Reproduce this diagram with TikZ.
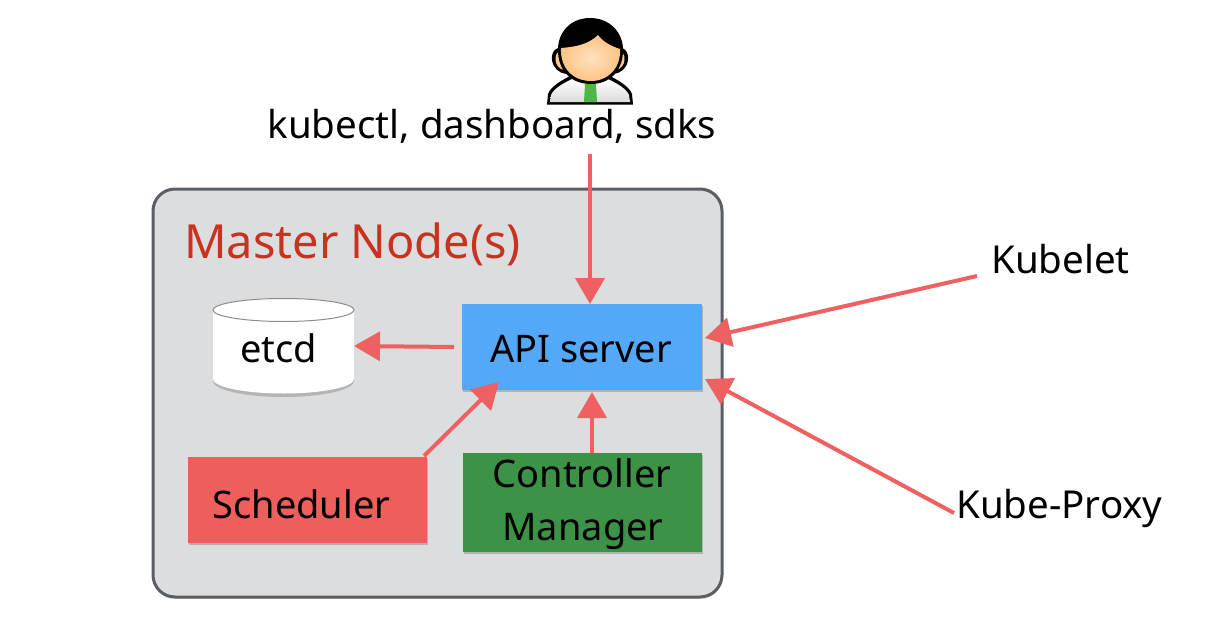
\documentclass[tikz,border=0pt]{standalone}
\usepackage{fontspec}
\setmainfont{Noto Sans}
\usetikzlibrary{arrows.meta,shadows}
\definecolor{panelfill}{HTML}{DCDDDF}
\definecolor{panelline}{HTML}{5A5F66}
\definecolor{apiblue}{HTML}{54A8F8}
\definecolor{schedred}{HTML}{EC5F5C}
\definecolor{ctrlgreen}{HTML}{3C9246}
\definecolor{arrowred}{HTML}{EF6062}
\definecolor{titlered}{HTML}{C8321F}
\definecolor{facecol}{HTML}{FFC98E}
\definecolor{tiegreen}{HTML}{4DB848}
\tikzset{
  x=1pt,y=-1pt,
  softshadow/.style={drop shadow={shadow xshift=0.5pt,shadow yshift=-2pt,opacity=.3,fill=black!70}},
  block/.style={rectangle,inner sep=0pt,softshadow},
  boxtext/.style={inner sep=0pt,text=black,anchor=base,font=\fontsize{38}{44}\selectfont},
  label/.style={inner sep=0pt,text=black,font=\fontsize{38.5}{44}\selectfont},
  flow/.style={draw=arrowred,line width=4pt,-{Triangle[length=26pt,width=29pt]}},
}
\begin{document}
\begin{tikzpicture}
\useasboundingbox (0,0) rectangle (1224,626);
\fill[white] (0,0) rectangle (1224,626);
% panel
\node[draw=panelline,fill=panelfill,line width=3pt,rounded corners=22pt,minimum width=569pt,minimum height=408pt,inner sep=0pt,
  drop shadow={shadow xshift=0pt,shadow yshift=-2pt,opacity=.2,fill=black!60}] (panel) at (437.5,393) {};
\node[inner sep=0pt,text=titlered,font=\fontsize{47}{50}\selectfont,anchor=base west] (title) at (184,258) {Master Node(s)};
% etcd cylinder
\fill[black!45,opacity=.5] (213,317) -- (213,381) arc[start angle=180,end angle=360,x radius=70.5pt,y radius=16pt] -- (354,317) -- cycle;
\path[fill=white] (213,310) -- (213,379) arc[start angle=180,end angle=360,x radius=70.5pt,y radius=14.5pt] -- (354,310) arc[start angle=0,end angle=-180,x radius=70.5pt,y radius=11.5pt] -- cycle;
\draw[fill=white,draw=black!45,line width=1pt] (283.5,310) ellipse[x radius=70.5pt,y radius=11.5pt];
\node[boxtext] (etcd) at (278.5,362) {etcd};
% blocks
\node[block,fill=apiblue,minimum width=240pt,minimum height=86pt] (api) at (582,347) {};
\node[boxtext] (apitext) at (581,362) {API server};
\node[block,fill=schedred,minimum width=239pt,minimum height=86pt] (sched) at (307.5,500) {};
\node[boxtext] (schedtext) at (301.5,518) {Scheduler};
\node[block,fill=ctrlgreen,minimum width=239pt,minimum height=99pt] (ctrl) at (582.5,502.5) {};
\node[boxtext] (ctrltext1) at (582,487) {Controller};
\node[boxtext] (ctrltext2) at (583,540) {Manager};
% labels
\node[label,anchor=base] (clients) at (492,139) {kubectl, dashboard, sdks};
\node[label,anchor=base west] (kubelet) at (991,273) {Kubelet};
\node[label,anchor=base west] (proxy) at (956,518) {Kube-Proxy};
% connector ends
\coordinate (c1) at (590,154);
\coordinate (c2) at (590,304);
\coordinate (e1) at (454,347);
\coordinate (e2) at (354,346);
\coordinate (s1) at (424,456);
\coordinate (s2) at (499,382);
\coordinate (m1) at (592,453);
\coordinate (m2) at (592,392);
\coordinate (k1) at (977,276);
\coordinate (k2) at (705,338);
\coordinate (p1) at (954,513);
\coordinate (p2) at (705,379);
\draw[flow] (c1) -- (c2);
\draw[flow] (e1) -- (e2);
\draw[flow] (s1) -- (s2);
\draw[flow] (m1) -- (m2);
\draw[flow] (k1) -- (k2);
\draw[flow] (p1) -- (p2);
% person
\begin{scope}
% body
\fill[black] (547,104.5) -- (633,104.5) -- (632,94) .. controls (629,86) and (618,80) .. (606,74) -- (574,74) .. controls (562,80) and (551,86) .. (548,94) -- cycle;
\shade[top color=white,bottom color=black!14] (550,102) -- (630,102) -- (629,95) .. controls (626,88) and (616,83) .. (606,78) -- (574,78) .. controls (564,83) and (554,88) .. (551,95) -- cycle;
\fill[tiegreen] (585,84) -- (596,84) -- (597,102) -- (584,102) -- cycle;
% ears
\fill[black] (552,60) .. controls (551,51) and (557,46) .. (564,47) -- (616,47) .. controls (623,46) and (629,51) .. (628,60) .. controls (627,68) and (621,73) .. (614,74) -- (566,74) .. controls (559,73) and (553,68) .. (552,60) -- cycle;
\fill[facecol] (555.5,60) .. controls (555,54) and (558,50) .. (564,51) -- (564,70) .. controls (559,69) and (556,65) .. (555.5,60) -- cycle;
\fill[facecol] (624.5,60) .. controls (625,54) and (622,50) .. (616,51) -- (616,70) .. controls (621,69) and (624,65) .. (624.5,60) -- cycle;
% head and hair
\fill[black] (590,18) .. controls (570,18) and (557,33) .. (558,52) .. controls (559,72) and (572,84) .. (591,84) .. controls (609,84) and (622,72) .. (623,52) .. controls (624,33) and (610,18) .. (590,18) -- cycle;
\shade[inner color=facecol!55!white,outer color=facecol!92!orange] (561,48) .. controls (574,47) and (588,45) .. (598,35) .. controls (603,42) and (611,46) .. (620,49) .. controls (621,68) and (608,81) .. (591,81) .. controls (573,81) and (560,68) .. (561,48) -- cycle;
\end{scope}
\end{tikzpicture}
\end{document}
